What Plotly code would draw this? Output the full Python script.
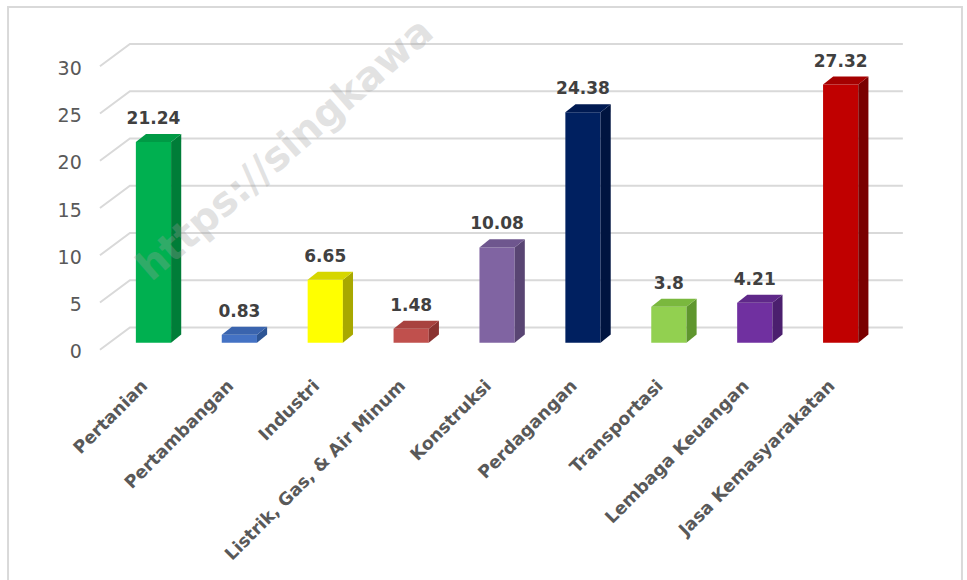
import plotly.graph_objects as go

categories = ["Pertanian", "Pertambangan", "Industri", "Listrik, Gas, & Air Minum",
              "Konstruksi", "Perdagangan", "Transportasi", "Lembaga Keuangan",
              "Jasa Kemasyarakatan"]
values = [21.24, 0.83, 6.65, 1.48, 10.08, 24.38, 3.8, 4.21, 27.32]
front_colors = ["#00b050", "#4472c4", "#ffff00", "#c0504d", "#8064a2",
                "#002060", "#92d050", "#7030a0", "#c00000"]
top_colors = ["#009a45", "#3a64ae", "#d6d600", "#a8423f", "#6e568e",
              "#001a52", "#7ab83e", "#5f2889", "#a50000"]
side_colors = ["#007d38", "#2d5595", "#a8a800", "#8a3331", "#594573",
               "#001440", "#5f962e", "#4b1f6e", "#7a0000"]
y_ticks = [0, 5, 10, 15, 20, 25, 30]

W = 0.41     # bar width (category units)
DX = 0.118   # depth offset x
DY = 0.85    # depth offset y
WALL = 1.6   # back wall offset
FRONT = -0.75

fig = go.Figure()

# front faces
fig.add_trace(go.Bar(x=list(range(len(values))), y=values, width=W,
                     marker=dict(color=front_colors, line=dict(width=0)),
                     hoverinfo="skip"))

# side and top faces
for i, v in enumerate(values):
    xr = i + W / 2
    xl = i - W / 2
    fig.add_trace(go.Scatter(
        x=[xr, xr + DX, xr + DX, xr, xr], y=[0, DY, v + DY, v, 0],
        mode="lines", fill="toself", fillcolor=side_colors[i],
        line=dict(width=0, color=side_colors[i]), hoverinfo="skip"))
    fig.add_trace(go.Scatter(
        x=[xl, xr, xr + DX, xl + DX, xl], y=[v, v, v + DY, v + DY, v],
        mode="lines", fill="toself", fillcolor=top_colors[i],
        line=dict(width=0, color=top_colors[i]), hoverinfo="skip"))

# value labels
fig.add_trace(go.Scatter(
    x=list(range(len(values))), y=[v + DY + 0.6 for v in values],
    mode="text", text=[f"{v:g}" for v in values], textposition="top center",
    textfont=dict(family="DejaVu Sans", size=17, color="#404040", weight="bold"),
    hoverinfo="skip"))

# gridlines (floor diagonal + back wall)
shapes = []
x_front, x_wall, x_end = -0.623, -0.274, 8.724
for t in y_ticks:
    shapes.append(dict(
        type="path", xref="x", yref="y", layer="below",
        path=f"M {x_front},{t + FRONT} L {x_wall},{t + WALL} L {x_end},{t + WALL}",
        line=dict(color="#d9d9d9", width=2)))

# outer frame
shapes.append(dict(type="rect", xref="paper", yref="paper",
                   x0=-0.0698, x1=1.0407, y0=-0.64, y1=1.0706,
                   line=dict(color="#d9d9d9", width=2), layer="below"))

fig.update_layout(
    width=967, height=580,
    margin=dict(l=68, r=40, t=31, b=209),
    plot_bgcolor="white", paper_bgcolor="white",
    showlegend=False,
    barmode="overlay",
    shapes=shapes,
    xaxis=dict(range=[-0.995, 9.005], tickmode="array",
               tickvals=list(range(len(categories))), ticktext=categories,
               tickangle=-45, showgrid=False, zeroline=False, showline=False,
               ticks="", ticklabelshift=-11,
               tickfont=dict(family="DejaVu Sans", size=17.5, color="#595959",
                             weight="bold")),
    yaxis=dict(range=[-3, 32.98], showgrid=False, zeroline=False,
               showline=False, ticks="", anchor="free", position=0.016,
               tickmode="array", tickvals=[t - 0.95 for t in y_ticks],
               ticktext=[str(t) for t in y_ticks],
               tickfont=dict(family="DejaVu Sans", size=19, color="#595959")),
    annotations=[dict(
        text="https://singkawa", xref="paper", yref="paper",
        x=0.2526, y=0.655, xanchor="center", yanchor="middle",
        textangle=-41, showarrow=False, opacity=0.3,
        font=dict(family="DejaVu Sans", size=40, color="#a0a0a0",
                  weight="bold"))],
)

fig.write_html("out.html")
